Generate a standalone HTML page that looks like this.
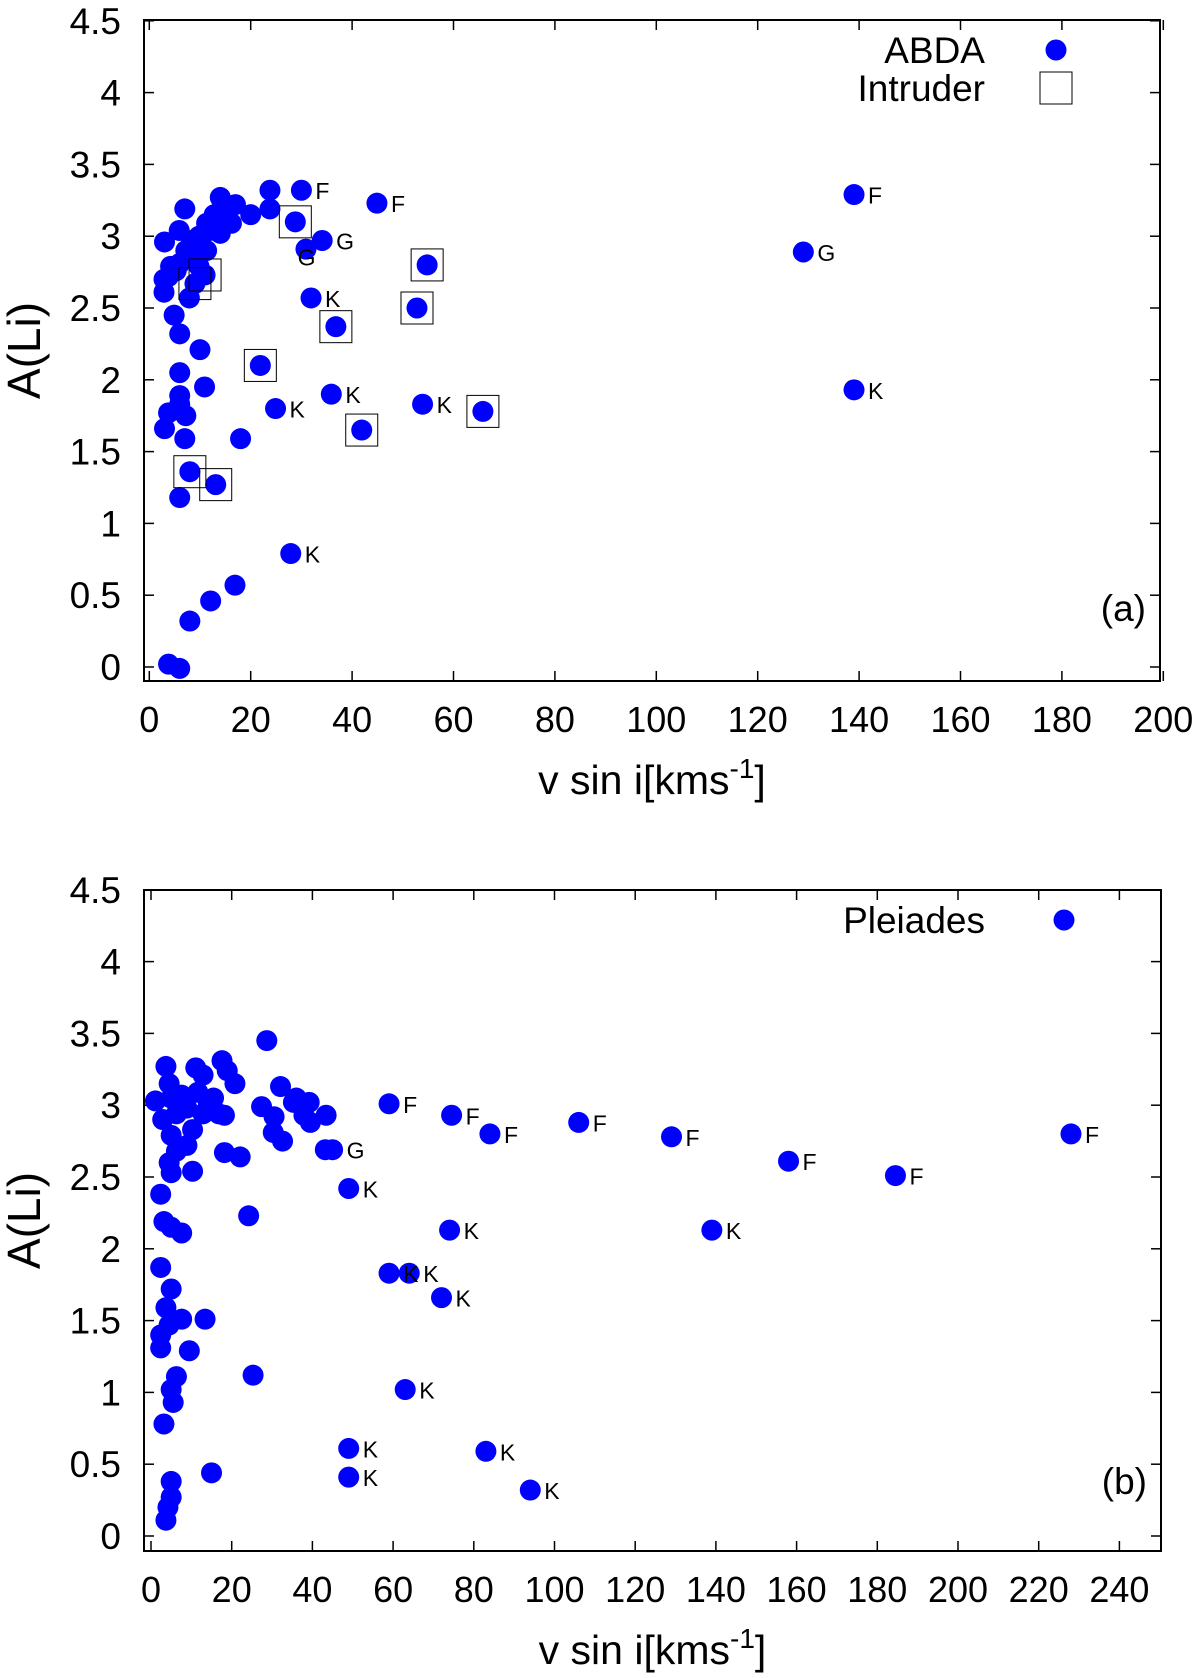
<!DOCTYPE html>
<html><head><meta charset="utf-8"><style>
html,body{margin:0;padding:0;background:#fff}
svg{display:block;font-family:"Liberation Sans",sans-serif}
</style></head><body>
<svg id="c" width="1200" height="1678" xmlns="http://www.w3.org/2000/svg"></svg>
<script>
// ---- panel (a) data ----
const aX=[3,7,5.9,3.8,2.9,2.9,4.2,6,7.2,8.3,9.8,11.3,11.3,12.8,14,14,16.2,17,20,23.8,23.8,30,44.9,28.8,34.1,30.9,31.9,36.8,54.8,52.8,21.9,24.9,35.9,41.9,53.9,65.8,9,11,7.9,4.9,6,10,6,10.9,6,6,3.8,7.2,3,7,18,8,13.1,6,27.9,16.9,12.1,8,3.8,6,5.3,9.8,8.3,12,15,139,129,139];
const aY=[2.96,3.19,3.04,2.72,2.70,2.61,2.79,2.81,2.90,2.97,3.0,2.90,3.09,3.15,3.27,3.02,3.09,3.22,3.15,3.32,3.19,3.32,3.23,3.10,2.97,2.91,2.57,2.37,2.80,2.50,2.10,1.80,1.90,1.65,1.83,1.78,2.67,2.73,2.57,2.45,2.32,2.21,2.05,1.95,1.89,1.83,1.77,1.75,1.66,1.59,1.59,1.36,1.27,1.18,0.79,0.57,0.46,0.32,0.02,-0.01,2.76,2.79,2.86,3.04,3.15,3.29,2.89,1.93];
const aIntrX=[28.8,54.8,52.8,36.8,21.9,41.9,65.8,9,11,8,13.1];
const aIntrY=[3.10,2.80,2.50,2.37,2.10,1.65,1.78,2.67,2.73,1.36,1.27];
const aLabX=[30,44.9,34.1,26.5,31.9,24.9,35.9,53.9,27.9,139,129,139];
const aLabY=[3.32,3.23,2.97,2.86,2.57,1.80,1.90,1.83,0.79,3.29,2.89,1.93];
const aLabT=["F","F","G","G","K","K","K","K","K","F","G","K"];
const aXTicks=[0,20,40,60,80,100,120,140,160,180,200];
const yTicks=[0,0.5,1,1.5,2,2.5,3,3.5,4,4.5];
// ---- panel (b) data ----
const bX=[1.1,3.7,4.5,5,2.9,6.3,7.6,8.9,10.3,8.9,11.6,12.9,11.1,12.9,14.2,15.5,17.6,18.9,20.8,16.8,18.2,5,6.3,4.5,5,2.4,3.2,5,7.6,10.3,2.4,5,3.7,4.5,2.4,2.4,7.6,9.5,5,6.3,5.5,3.2,5,5,4.2,3.7,15,13.4,25.3,24.2,18.2,22.1,27.4,28.7,32.1,30.5,30.3,32.6,36.6,35.3,36,37.9,39.2,43.4,43.2,39.5,
 59,74.5,84,106,129,158,184.5,228,45,49,74,139,59,64,72,63,49,83,49,94];
const bY=[3.03,3.27,3.15,3.05,2.90,2.94,3.07,2.98,2.83,2.72,3.09,2.94,3.26,3.21,3.02,3.05,3.31,3.24,3.15,2.94,2.93,2.79,2.68,2.60,2.53,2.38,2.19,2.15,2.11,2.54,1.87,1.72,1.59,1.47,1.40,1.31,1.51,1.29,1.02,1.11,0.93,0.78,0.38,0.27,0.20,0.11,0.44,1.51,1.12,2.23,2.67,2.64,2.99,3.45,3.13,2.92,2.81,2.75,3.02,3.02,3.05,2.93,3.02,2.93,2.69,2.88,
 3.01,2.93,2.80,2.88,2.78,2.61,2.51,2.80,2.69,2.42,2.13,2.13,1.83,1.83,1.66,1.02,0.61,0.59,0.41,0.32];
const bLabX=[59,74.5,84,106,129,158,184.5,228,45,49,74,139,59,64,72,63,49,83,49,94];
const bLabY=[3.01,2.93,2.80,2.88,2.78,2.61,2.51,2.80,2.69,2.42,2.13,2.13,1.83,1.83,1.66,1.02,0.61,0.59,0.41,0.32];
const bLabT=["F","F","F","F","F","F","F","F","G","K","K","K","K","K","K","K","K","K","K","K"];
const bXTicks=[0,20,40,60,80,100,120,140,160,180,200,220,240];

const svg=document.getElementById('c');
const NS='http://www.w3.org/2000/svg';
function mk(tag,attrs,parent){const e=document.createElementNS(NS,tag);for(const k in attrs)e.setAttribute(k,attrs[k]);(parent||svg).appendChild(e);return e;}

function panel(p){
  const g=mk('g',{});
  
  
  const sx=v=>p.x0+p.kx*v, sy=v=>p.y0-p.ky*v;
  const fr=mk('rect',{x:p.L,y:p.T,width:p.R-p.L,height:p.B-p.T,fill:'none',stroke:'#000','stroke-width':2},g);
  
  
  p.xt.forEach(v=>{
    const x=sx(v);
    mk('line',{x1:x,y1:p.B,x2:x,y2:p.B-10,stroke:'#000','stroke-width':1.5},g);
    mk('line',{x1:x,y1:p.T,x2:x,y2:p.T+10,stroke:'#000','stroke-width':1.5},g);
    const t=mk('text',{x:x,y:p.B+51,'font-size':36,'text-anchor':'middle'},g);t.textContent=v;
    
    
  });
  yTicks.forEach(v=>{
    const y=sy(v);
    mk('line',{x1:p.L,y1:y,x2:p.L+10,y2:y,stroke:'#000','stroke-width':1.5},g);
    mk('line',{x1:p.R,y1:y,x2:p.R-10,y2:y,stroke:'#000','stroke-width':1.5},g);
    const t=mk('text',{x:p.L-23,y:y+13,'font-size':37,'text-anchor':'end'},g);t.textContent=v;
    
    
  });
  const yl=mk('text',{x:0,y:0,'font-size':46,'text-anchor':'middle',transform:`translate(40,${(p.T+p.B)/2}) rotate(-90)`},g);
  yl.textContent='A(Li)';
  
  
  const xl=mk('text',{x:(p.L+p.R)/2,y:p.B+113,'font-size':41,'text-anchor':'middle'},g);
  xl.innerHTML='v sin i[kms<tspan dy="-16" font-size="28">-1</tspan><tspan dy="16">]</tspan>';
  
  
  p.X.forEach((v,i)=>{
    const c=mk('ellipse',{cx:sx(v),cy:sy(p.Y[i]),rx:10.5,ry:10.5,fill:'#0000ff'},g);
    
    
  });
  (p.BX||[]).forEach((v,i)=>{
    const r=mk('rect',{x:sx(v)-16,y:sy(p.BY[i])-16,width:32,height:32,fill:'none',stroke:'#000','stroke-width':1},g);
    
    
  });
  p.LX.forEach((v,i)=>{
    const t=mk('text',{x:sx(v)+14,y:sy(p.LY[i])+9,'font-size':23},g);t.textContent=p.LT[i];
    
    
  });
  const pl=mk('text',{x:p.R-14,y:p.tagY,'font-size':37,'text-anchor':'end'},g);pl.textContent=p.tag;
  
  
  return g;
}
const ga=panel({name:'panel-a',L:144,R:1160,T:20,B:681,x0:149.3,kx:5.07,y0:667,ky:143.6,xt:aXTicks,X:aX,Y:aY,BX:aIntrX,BY:aIntrY,LX:aLabX,LY:aLabY,LT:aLabT,tag:'(a)',tagY:621});
const gb=panel({name:'panel-b',L:144,R:1161,T:890,B:1551,x0:151,kx:4.035,y0:1536,ky:143.6,xt:bXTicks,X:bX,Y:bY,LX:bLabX,LY:bLabY,LT:bLabT,tag:'(b)',tagY:1494});
// legends
let t=mk('text',{x:985,y:63,'font-size':37,'text-anchor':'end'},ga);t.textContent='ABDA';


let c=mk('ellipse',{cx:1056,cy:50,rx:10.5,ry:10.5,fill:'#0000ff'},ga);


t=mk('text',{x:985,y:101,'font-size':37,'text-anchor':'end'},ga);t.textContent='Intruder';


let r=mk('rect',{x:1040,y:72,width:32,height:32,fill:'none',stroke:'#000','stroke-width':1},ga);


t=mk('text',{x:985,y:933,'font-size':37,'text-anchor':'end'},gb);t.textContent='Pleiades';


c=mk('ellipse',{cx:1064,cy:920,rx:10.5,ry:10.5,fill:'#0000ff'},gb);


</script>
</body></html>
